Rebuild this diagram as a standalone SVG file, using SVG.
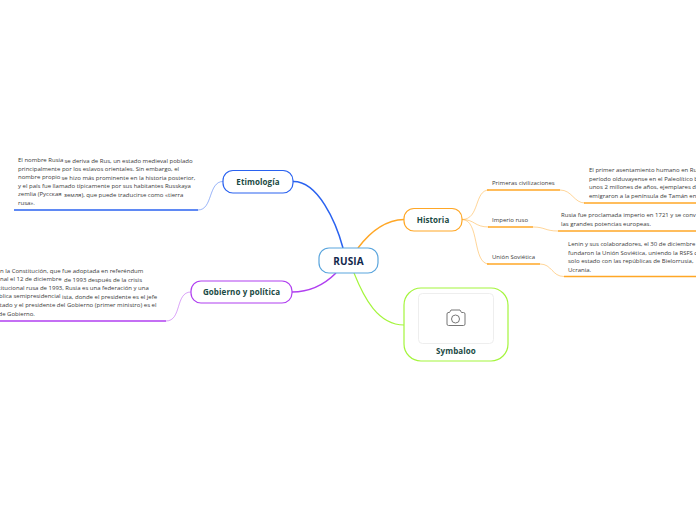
<svg xmlns="http://www.w3.org/2000/svg" width="696" height="520" viewBox="0 0 696 520">
<style>
text{font-family:"Open Sans","Noto Sans","DejaVu Sans",sans-serif;fill:#3a3a3a}
.t{font-size:6px}
.n{font-size:8px;font-weight:700;fill:#1b4a44;text-anchor:middle;letter-spacing:.1px}
.c{fill:none}
.b{stroke:#2a62f0}.p{stroke:#b03ff0}.o{stroke:#ffa726}.g{stroke:#a4f53c}
.l{stroke-width:.8;opacity:.6}
.h{stroke-width:1.5}
.box{fill:#fff;stroke-width:1.2}
</style>
<g id="connectors" class="c">
<path class="b" stroke-width="1.5" d="M343 248C336 222 318 181 293 181.500"/>
<path class="p" stroke-width="1.5" d="M336 273C325 284 310 292 292 292"/>
<path class="o" stroke-width="1.5" d="M358 248C370 232 385 220 404 219.500"/>
<path class="g" stroke-width="1.2" d="M354 273C364 298 378 325 404 325"/>
<path class="b l" d="M223 181.500C208 181.500 213 210 198 210"/>
<path class="b h" d="M198 210H14"/>
<path class="p l" d="M191 292C175 292 182 321 166 321"/>
<path class="p h" d="M166 321H0"/>
<path class="o l" d="M462 219.500C480 219.500 474 190 489 190"/>
<path class="o h" d="M487 190H560"/>
<path class="o l" d="M560 190C572 190 574 203 585 203"/>
<path class="o h" d="M584 203H696"/>
<path class="o l" d="M462 219.500C475 219.500 474 227 489 227"/>
<path class="o h" d="M488 227H533"/>
<path class="o l" d="M533 227C545 227 545 231 558 231"/>
<path class="o h" d="M558 231H696"/>
<path class="o l" d="M462 219.500C480 219.500 472 264 489 264"/>
<path class="o h" d="M487 264H540"/>
<path class="o l" d="M540 264C552 264 552 276.500 564 276.500"/>
<path class="o h" d="M564 276.500H696"/>
</g>
<g id="rusia"><rect class="box" x="319" y="248" width="59" height="25" rx="10" fill="#fff" stroke="#5aa5dd"/><text x="348.500" y="264.500" class="n" style="font-size:10px;fill:#12284c">RUSIA</text></g>
<g id="etimologia"><rect class="box b" x="223" y="170.500" width="70" height="22.500" rx="10"/><text x="258" y="185" class="n">Etimología</text></g>
<g id="gobierno"><rect class="box p" x="191" y="281" width="101" height="22" rx="10"/><text x="241.500" y="295" class="n">Gobierno y política</text></g>
<g id="historia"><rect class="box o" x="404" y="208.500" width="58" height="22.500" rx="10"/><text x="433" y="223" class="n">Historia</text></g>
<g id="symbaloo"><rect class="box g" x="404" y="288" width="104" height="73" rx="17"/><rect x="418.500" y="293.500" width="75" height="50" rx="4" fill="#fff" stroke="#eee" stroke-width="1"/>
<g fill="none" stroke="#777" stroke-width="1"><path d="M448 312.500h1.500l1.500-2.500h9l1.500 2.500h2a1.500 1.500 0 0 1 1.500 1.500v10a1.500 1.500 0 0 1-1.500 1.500h-15a1.500 1.500 0 0 1-1.500-1.500v-10a1.500 1.500 0 0 1 1.500-1.500z"/><circle cx="455.500" cy="319" r="4"/></g>
<text x="456" y="354" class="n">Symbaloo</text></g>
<g id="t-etimologia" class="t"><text x="18" y="162">El nombre Rusia</text><text x="64.500" y="162.500">se deriva de Rus, un estado medieval poblado</text><text x="18" y="170.500">principalmente por los eslavos orientales. Sin embargo, el</text><text x="18" y="179">nombre propio</text><text x="61.500" y="179.500">se hizo más prominente en la historia posterior,</text><text x="18" y="187.500">y el país fue llamado típicamente por sus habitantes Russkaya</text><text x="18" y="196">zemlia (Русская</text><text x="64" y="196.500">земля), que puede traducirse como «tierra</text><text x="18" y="205">rusa».</text></g>
<g id="t-gobierno" class="t"><text x="0" y="273">n la Constitución, que fue adoptada en referéndum</text><text x="0" y="281">nal el 12 de diciembre</text><text x="64" y="281.500">de 1993 después de la crisis</text><text x="-1.500" y="290">titucional rusa de 1993, Rusia es una federación y una</text><text x="-1" y="298">blica semipresidencial</text><text x="62" y="299">ista, donde el presidente es el jefe</text><text x="-3" y="307">stado y el presidente del Gobierno (primer ministro) es el</text><text x="-1.500" y="315.500">de Gobierno.</text></g>
<g id="primeras"><text x="492" y="185" class="t">Primeras civilizaciones</text></g>
<g id="imperio"><text x="492" y="222" class="t">Imperio ruso</text></g>
<g id="union"><text x="492" y="259" class="t">Unión Soviética</text></g>
<g id="t-primeras" class="t"><text x="589" y="172">El primer asentamiento humano en Ru</text><text x="589" y="180.500">período olduvayense en el Paleolítico b</text><text x="589" y="189">unos 2 millones de años, ejemplares de</text><text x="589" y="198">emigraron a la península de Tamán en</text></g>
<g id="t-imperio" class="t"><text x="561" y="217">Rusia fue proclamada imperio en 1721 y se conv</text><text x="561" y="226">las grandes potencias europeas.</text></g>
<g id="t-union" class="t"><text x="568" y="246">Lenin y sus colaboradores, el 30 de diciembre</text><text x="568" y="255">fundaron la Unión Soviética, uniendo la RSFS d</text><text x="568" y="263">solo estado con las repúblicas de Bielorrusia, </text><text x="568" y="272">Ucrania.</text></g>
</svg>
